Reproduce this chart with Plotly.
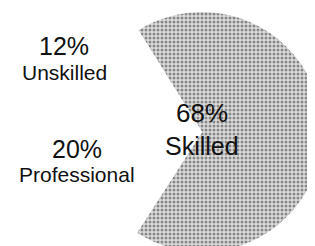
import plotly.graph_objects as go

categories = ["Skilled", "Professional", "Unskilled"]
shares = [68, 20, 12]
slice_colors = ["#b4b4b4", "#ffffff", "#ffffff"]

fig = go.Figure()
fig.add_trace(go.Pie(
    labels=categories,
    values=shares,
    sort=False,
    direction="clockwise",
    rotation=-32,
    marker=dict(
        colors=slice_colors,
        line=dict(width=0),
        pattern=dict(shape=[".", "", ""], fgcolor="#333333", bgcolor="#dcdcdc",
                     size=4, solidity=0.45, fillmode="overlay"),
    ),
    textinfo="none",
    hoverinfo="label+percent",
    showlegend=False,
    domain=dict(x=[0.235, 0.997], y=[0.008, 0.984]),
))

font = "Liberation Sans, Arial, sans-serif"
label_pos = {
    "Skilled": (194, 105, 138, 26, 25),
    "Unskilled": (56, 38, 64, 25, 21),
    "Professional": (69, 141, 166, 25, 21),
}
for cat, val in zip(categories, shares):
    x, y1, y2, s1, s2 = label_pos[cat]
    fig.add_annotation(x=x / 315, y=1 - y1 / 246, xref="paper", yref="paper",
                       xanchor="center", yanchor="middle",
                       text=f"{val}%", showarrow=False,
                       font=dict(family=font, size=s1, color="#111111"))
    fig.add_annotation(x=x / 315, y=1 - y2 / 246, xref="paper", yref="paper",
                       xanchor="center", yanchor="middle",
                       text=cat, showarrow=False,
                       font=dict(family=font, size=s2, color="#111111"))

fig.update_layout(
    width=315, height=246,
    margin=dict(l=0, r=0, t=0, b=0),
    paper_bgcolor="white", plot_bgcolor="white",
)
fig.write_html("out.html")
